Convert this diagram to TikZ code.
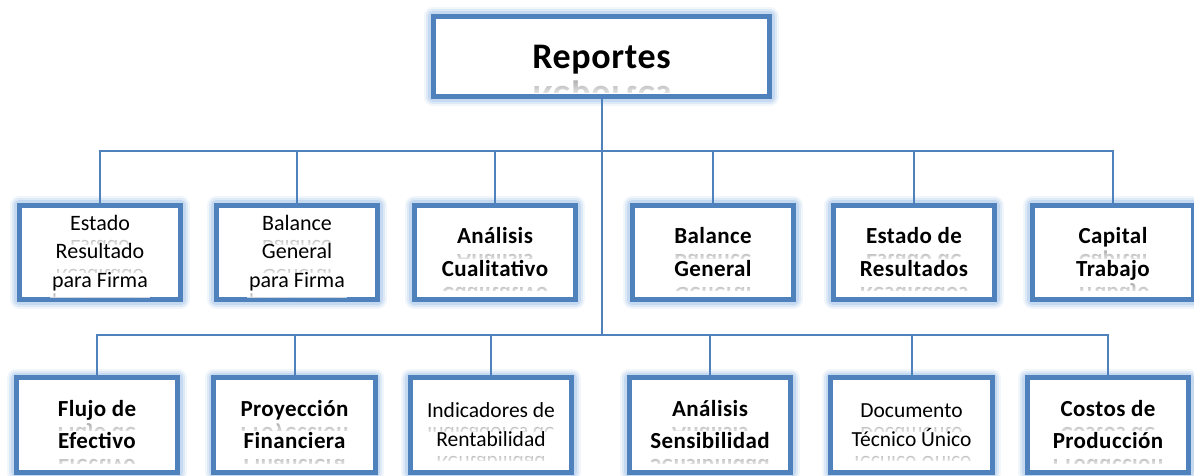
\documentclass[tikz,border=0pt]{standalone}
\usepackage{fontspec}
\setmainfont{Carlito}
\newfontfamily\spaced[LetterSpace=1.8]{Carlito}
\usetikzlibrary{calc,fadings}

\definecolor{bord}{RGB}{79,129,189}
\definecolor{glowc}{RGB}{141,180,226}
\definecolor{reflc}{RGB}{135,135,135}

% white veil that hides the lower part of each mirrored line
\tikzfading[name=reflfade, top color=transparent!100, bottom color=transparent!0]

\tikzset{
  bx/.style={draw=bord, line width=4.8pt, fill=white, inner sep=0pt,
    preaction={draw=glowc, line width=18pt, opacity=.12, line join=round},
    preaction={draw=glowc, line width=14pt, opacity=.2, line join=round},
    preaction={draw=glowc, line width=10pt, opacity=.3, line join=round}},
  rowbox/.style={bx, minimum width=161.5pt, minimum height=94.5pt},
  conn/.style={draw=bord, line width=2pt},
  txt/.style={anchor=base, inner sep=0pt, outer sep=0pt},
}

% one line of text with its faded mirror image underneath
% [#1] height of the visible mirror band (fraction of size),
% #2 name, #3 x, #4 baseline, #5 size, #6 font switches, #7 text
\newcommand\tline[7][0.40]{%
  \pgfmathsetmacro\rd{0.24*#5}%
  \pgfmathsetmacro\rh{#1*#5}%
  \node[txt, font=\fontsize{#5}{#5}\selectfont#6] (#2) at (#3,#4) {#7};
  \begin{scope}
    \clip ($(#2.base west)+(-2,\rd)$) rectangle ($(#2.base east)+(2,\rd+\rh)$);
    \begin{scope}[shift={(#3,#4+2*\rd)}, yscale=-1]
      \node[txt, transform shape, text=reflc, font=\fontsize{#5}{#5}\selectfont#6] (#2r) at (0,0) {#7};
    \end{scope}
    \fill[white, path fading=reflfade]
      ($(#2.base west)+(-3,\rd-0.5*\rh)$) rectangle ($(#2.base east)+(3,\rd+1.5*\rh)$);
  \end{scope}}

\newcommand\bsp{\spaced\bfseries}

\begin{document}
\begin{tikzpicture}[x=1pt, y=-1pt]
\useasboundingbox (0,0) rectangle (1194,476);

% ---- boxes ----
\node[bx, minimum width=336.5pt, minimum height=80.5pt] (top) at (601.5,56.5) {};

\node[rowbox] (r1a) at (100,252.5) {};
\node[rowbox] (r1b) at (297,252.5) {};
\node[rowbox] (r1c) at (495,252.5) {};
\node[rowbox] (r1d) at (713,252.5) {};
\node[rowbox] (r1e) at (914,252.5) {};
\node[rowbox] (r1f) at (1113,252.5) {};

\node[rowbox] (r2a) at (97,425) {};
\node[rowbox] (r2b) at (294.5,425) {};
\node[rowbox] (r2c) at (491,425) {};
\node[rowbox] (r2d) at (710,425) {};
\node[rowbox] (r2e) at (911.5,425) {};
\node[rowbox] (r2f) at (1108,425) {};

% ---- connectors ----
\coordinate (bus1) at (0,151);
\coordinate (bus2) at (0,335);
\draw[conn] (top.south) -- (top.south |- bus2);
\draw[conn] (r1a.north) -- (r1a.north |- bus1) -- (r1f.north |- bus1) -- (r1f.north);
\foreach \n in {r1b,r1c,r1d,r1e}
  \draw[conn] (\n.north |- bus1) -- (\n.north);
\draw[conn] (r2a.north) -- (r2a.north |- bus2) -- (r2f.north |- bus2) -- (r2f.north);
\foreach \n in {r2b,r2c,r2d,r2e}
  \draw[conn] (\n.north |- bus2) -- (\n.north);

% ---- labels ----
\tline{ttop}{601.5}{69}{36}{\bsp}{Reportes}

\tline{ta1}{100}{230}{22}{\mdseries}{Estado}
\tline{ta2}{100}{258.5}{22}{\mdseries}{Resultado}
\tline[0.25]{ta3}{100}{287}{22}{\mdseries}{para Firma}

\tline{tb1}{297}{230}{22}{\mdseries}{Balance}
\tline{tb2}{297}{258.5}{22}{\mdseries}{General}
\tline[0.25]{tb3}{297}{287}{22}{\mdseries}{para Firma}

\tline{tc1}{495}{243.6}{23}{\bsp}{Análisis}
\tline{tc2}{495}{276.1}{23}{\bsp}{Cualitativo}

\tline{td1}{713}{243.6}{23}{\bsp}{Balance}
\tline{td2}{713}{276.1}{23}{\bsp}{General}

\tline{te1}{914}{243.6}{23}{\bsp}{Estado de}
\tline{te2}{914}{276.1}{23}{\bsp}{Resultados}

\tline{tf1}{1113}{243.6}{23}{\bsp}{Capital}
\tline{tf2}{1113}{276.1}{23}{\bsp}{Trabajo}

\tline{tg1}{97}{416.1}{23}{\bsp}{Flujo de}
\tline{tg2}{97}{448.6}{23}{\bsp}{Efectivo}

\tline{th1}{294.5}{416.1}{23}{\bsp}{Proyección}
\tline{th2}{294.5}{448.6}{23}{\bsp}{Financiera}

\tline{ti1}{491}{417.5}{21.5}{\mdseries}{Indicadores de}
\tline{ti2}{491}{446.5}{21.5}{\mdseries}{Rentabilidad}

\tline{tj1}{710}{416.1}{23}{\bsp}{Análisis}
\tline{tj2}{710}{448.6}{23}{\bsp}{Sensibilidad}

\tline{tk1}{911.5}{417.5}{21.5}{\mdseries}{Documento}
\tline{tk2}{911.5}{446.5}{21.5}{\mdseries}{Técnico Único}

\tline{tl1}{1108}{416.1}{23}{\bsp}{Costos de}
\tline{tl2}{1108}{448.6}{23}{\bsp}{Producción}
\end{tikzpicture}
\end{document}
